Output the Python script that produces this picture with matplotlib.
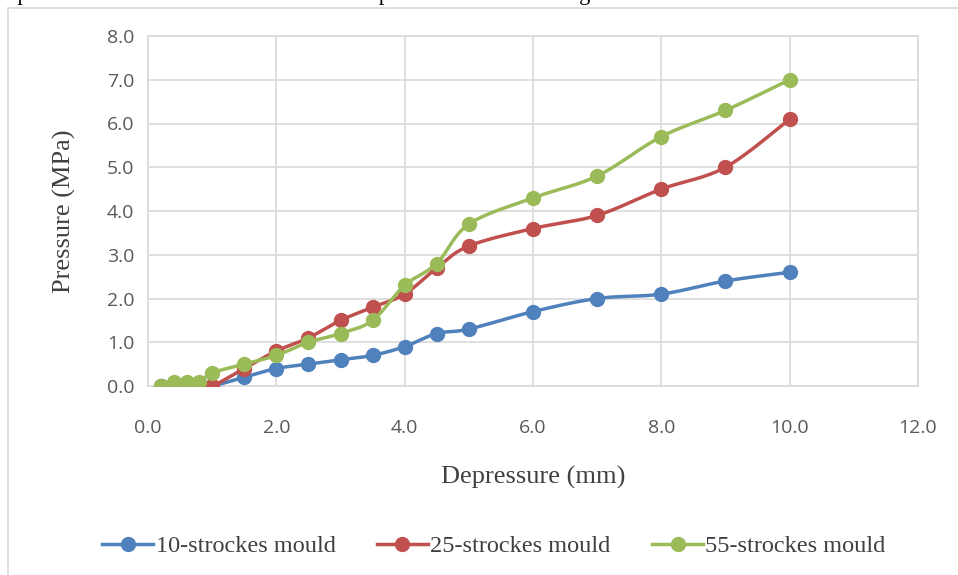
import numpy as np
import matplotlib.pyplot as plt
from matplotlib.patches import Rectangle

depression = [0.2, 0.4, 0.6, 0.8, 1.0, 1.5, 2.0, 2.5, 3.0, 3.5, 4.0, 4.5, 5.0, 6.0, 7.0, 8.0, 9.0, 10.0]
p10 = [0.0, 0.0, 0.0, 0.0, 0.0, 0.2, 0.4, 0.5, 0.6, 0.7, 0.9, 1.2, 1.3, 1.7, 2.0, 2.1, 2.4, 2.6]
p25 = [0.0, 0.0, 0.0, 0.0, 0.0, 0.4, 0.8, 1.1, 1.5, 1.8, 2.1, 2.7, 3.2, 3.6, 3.9, 4.5, 5.0, 6.1]
p55 = [0.0, 0.1, 0.1, 0.1, 0.3, 0.5, 0.7, 1.0, 1.2, 1.5, 2.3, 2.8, 3.7, 4.3, 4.8, 5.7, 6.3, 7.0]
labels = ['10-strockes mould', '25-strockes mould', '55-strockes mould']
colors = ['#4f81bd', '#c0504d', '#9bbb59']


def smooth(x, y, n=20):
    # Catmull-Rom curve through the points, like Excel's smoothed lines
    pts = np.column_stack([x, y]).astype(float)
    pts = np.vstack([pts[0], pts, pts[-1]])
    out = []
    t = np.linspace(0, 1, n, endpoint=False)[:, None]
    for i in range(1, len(pts) - 2):
        p0, p1, p2, p3 = pts[i - 1], pts[i], pts[i + 1], pts[i + 2]
        c = 0.5 * ((2 * p1) + (-p0 + p2) * t + (2 * p0 - 5 * p1 + 4 * p2 - p3) * t ** 2
                   + (-p0 + 3 * p1 - 3 * p2 + p3) * t ** 3)
        out.append(c)
    out.append(pts[-2][None, :])
    out = np.vstack(out)
    return out[:, 0], out[:, 1]


fig = plt.figure(figsize=(9.58, 5.75), dpi=100)
fig.patches.append(Rectangle((8 / 958, -0.1), 1.2, 1 - 8 / 575 + 0.1, transform=fig.transFigure,
                             fill=False, edgecolor='#d9d9d9', lw=1.2))
# line of the surrounding document, cut off by the top edge
fig.text(0.002, 1.0, 'e pressure variation as a function of the depression is shown in figure 3.',
         family='Liberation Serif', fontsize=16, va='baseline', ha='left', color='black')

ax = fig.add_axes([148 / 958, 1 - 386 / 575, 770 / 958, 350 / 575])
for i, (ys, lab, col) in enumerate(zip([p10, p25, p55], labels, colors)):
    sx, sy = smooth(depression, ys)
    ax.plot(sx, sy, color=col, lw=2.5, zorder=3 + i)
    ax.plot(depression, ys, 'o', color=col, ms=10, zorder=3 + i)
    ax.plot([], [], '-o', color=col, lw=2.5, ms=10, label=lab)

ax.set_xlim(0, 12)
ax.set_ylim(0, 8)
ax.set_xticks(np.arange(0, 12.1, 2))
ax.set_yticks(np.arange(0, 8.1, 1))
ax.xaxis.set_major_formatter(plt.FormatStrFormatter('%.1f'))
ax.yaxis.set_major_formatter(plt.FormatStrFormatter('%.1f'))
ax.grid(True, color='#d9d9d9', lw=1.2)
ax.set_axisbelow(True)
for s in ax.spines.values():
    s.set_color('#d9d9d9')
    s.set_linewidth(1.2)
ax.tick_params(length=0, labelsize=14, labelcolor='#595959')
ax.tick_params(axis='x', pad=24)
ax.tick_params(axis='y', pad=10)
for t in ax.get_xticklabels() + ax.get_yticklabels():
    t.set_family('Open Sans')

ax.set_ylabel('Pressure (MPa)', family='Liberation Serif', fontsize=19, color='#404040', labelpad=22)
fig.text(533 / 958, 1 - 477 / 575, 'Depressure (mm)', family='Liberation Serif', fontsize=19,
         color='#404040', ha='center', va='center')

handles = [h for h in ax.get_lines() if not h.get_label().startswith('_')]
fig.legend(handles=handles, labels=labels, loc='center', bbox_to_anchor=(494 / 958, 1 - 546 / 575), ncol=3,
           frameon=False, prop={'family': 'Liberation Serif', 'size': 17.5}, labelcolor='#404040',
           handlelength=2.1, handletextpad=0.1, columnspacing=1.7)

fig.savefig('out.png', dpi=100)
